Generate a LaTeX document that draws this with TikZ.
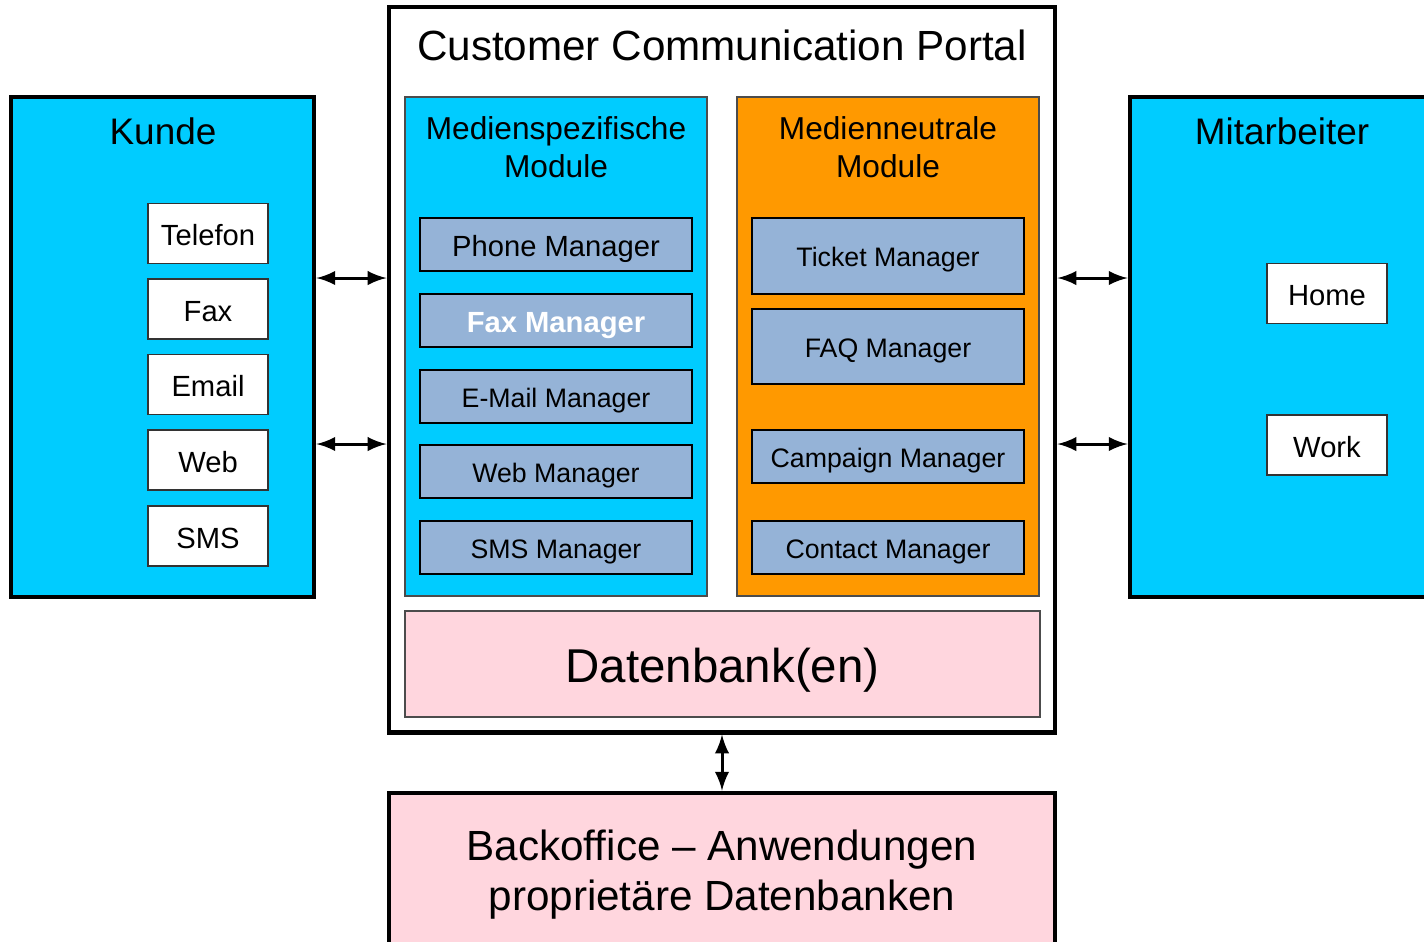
\documentclass[tikz,border=0pt]{standalone}
\usepackage{fontspec}
\setmainfont{Liberation Sans}
\usepackage{xcolor}
\usetikzlibrary{shapes.geometric, arrows, positioning}

\definecolor{boxcyan}{HTML}{00CCFF}
\definecolor{boxorange}{HTML}{FF9900}
\definecolor{mgrblue}{HTML}{95B3D7}
\definecolor{dbpink}{HTML}{FFD6DE}

\begin{document}
\begin{tikzpicture}[
    x=0.01cm, y=-0.01cm,
    outer/.style={rectangle, draw, line width=1.3pt, inner sep=0pt},
    group/.style={rectangle, draw=black!70, line width=0.4pt, minimum width=3.02cm, minimum height=4.99cm},
    mgr/.style={rectangle, draw, line width=0.6pt, fill=mgrblue, minimum width=2.72cm, minimum height=0.53cm,
                text height=6pt, text depth=0pt, font=\fontsize{7.6}{9}\selectfont},
    bigmgr/.style={mgr, text height=6.9pt, font=\fontsize{8.3}{10}\selectfont},
    item/.style={rectangle, draw=black!80, line width=0.4pt, fill=white, minimum width=1.2cm, minimum height=0.6cm,
                 text height=6.9pt, text depth=0pt, font=\fontsize{8.3}{10}\selectfont},
    title/.style={font=\fontsize{10.5}{12}\selectfont},
    arrow/.style={line width=0.85pt, <->, >=latex}
]
    \useasboundingbox (0,0) rectangle (1424,941);
    \clip (0,0) rectangle (1424,941);

    % Outer boxes
    \node[outer, fill=boxcyan, minimum width=3.03cm, minimum height=5cm] (kunde) at (162.5,347) {};
    \node[outer, fill=white, minimum width=6.66cm, minimum height=7.25cm] (portal) at (722,369.5) {};
    \node[outer, fill=boxcyan, minimum width=3.1cm, minimum height=5cm] (mitarbeiter) at (1285,347) {};
    \node[outer, fill=dbpink, minimum width=6.66cm, minimum height=1.64cm, align=center,
          font=\fontsize{12}{14.2}\selectfont] (backoffice) at (722,875)
          {Backoffice -- Anwendungen\\proprietäre Datenbanken};

    % Titles
    \node[title] (kundetitle) at (163,131) {Kunde};
    \node[title] (mitarbeitertitle) at (1282,131) {Mitarbeiter};
    \node[font=\fontsize{12}{14}\selectfont] (portaltitle) at (722,45) {Customer Communication Portal};

    % Kunde channels
    \node[item] (telefon) at (208,233.5) {Telefon};
    \node[item] (fax) at (208,309) {Fax};
    \node[item] (email) at (208,384.5) {Email};
    \node[item] (web) at (208,460) {Web};
    \node[item] (sms) at (208,536) {SMS};

    % Mitarbeiter places
    \node[item] (home) at (1327,293.5) {Home};
    \node[item] (work) at (1327,445) {Work};

    % Module groups
    \node[group, fill=boxcyan] (spez) at (556,346.5) {};
    \node[group, fill=boxorange] (neutral) at (888,346.5) {};
    \node[align=center, font=\fontsize{9}{10.8}\selectfont] (speztitle) at (556,147) {Medienspezifische\\Module};
    \node[align=center, font=\fontsize{9}{10.8}\selectfont] (neutraltitle) at (888,147) {Medienneutrale\\Module};

    \node[bigmgr] (phonemgr) at (556,244.5) {Phone Manager};
    \node[bigmgr, font=\fontsize{8.3}{10}\selectfont\bfseries, text=white] (faxmgr) at (556,320.5) {Fax Manager};
    \node[mgr] (emailmgr) at (556,396.5) {E-Mail Manager};
    \node[mgr] (webmgr) at (556,471.5) {Web Manager};
    \node[mgr] (smsmgr) at (556,547.5) {SMS Manager};

    \node[mgr, minimum height=0.76cm] (ticketmgr) at (888,256) {Ticket Manager};
    \node[mgr, minimum height=0.75cm] (faqmgr) at (888,346.5) {FAQ Manager};
    \node[mgr] (campaignmgr) at (888,456.5) {Campaign Manager};
    \node[mgr] (contactmgr) at (888,547.5) {Contact Manager};

    % Datenbank
    \node[rectangle, draw=black!70, line width=0.4pt, fill=dbpink, minimum width=6.35cm, minimum height=1.06cm,
          text height=10.3pt, text depth=0pt, font=\fontsize{13.5}{16}\selectfont] (datenbank) at (722.5,664) {Datenbank(en)};

    % Arrows
    \draw[arrow] (kunde.east |- 0,278) -- (portal.west |- 0,278);
    \draw[arrow] (kunde.east |- 0,444) -- (portal.west |- 0,444);
    \draw[arrow] (portal.east |- 0,278) -- (mitarbeiter.west |- 0,278);
    \draw[arrow] (portal.east |- 0,444) -- (mitarbeiter.west |- 0,444);
    \draw[arrow] (portal.south) -- (backoffice.north);
\end{tikzpicture}
\end{document}
